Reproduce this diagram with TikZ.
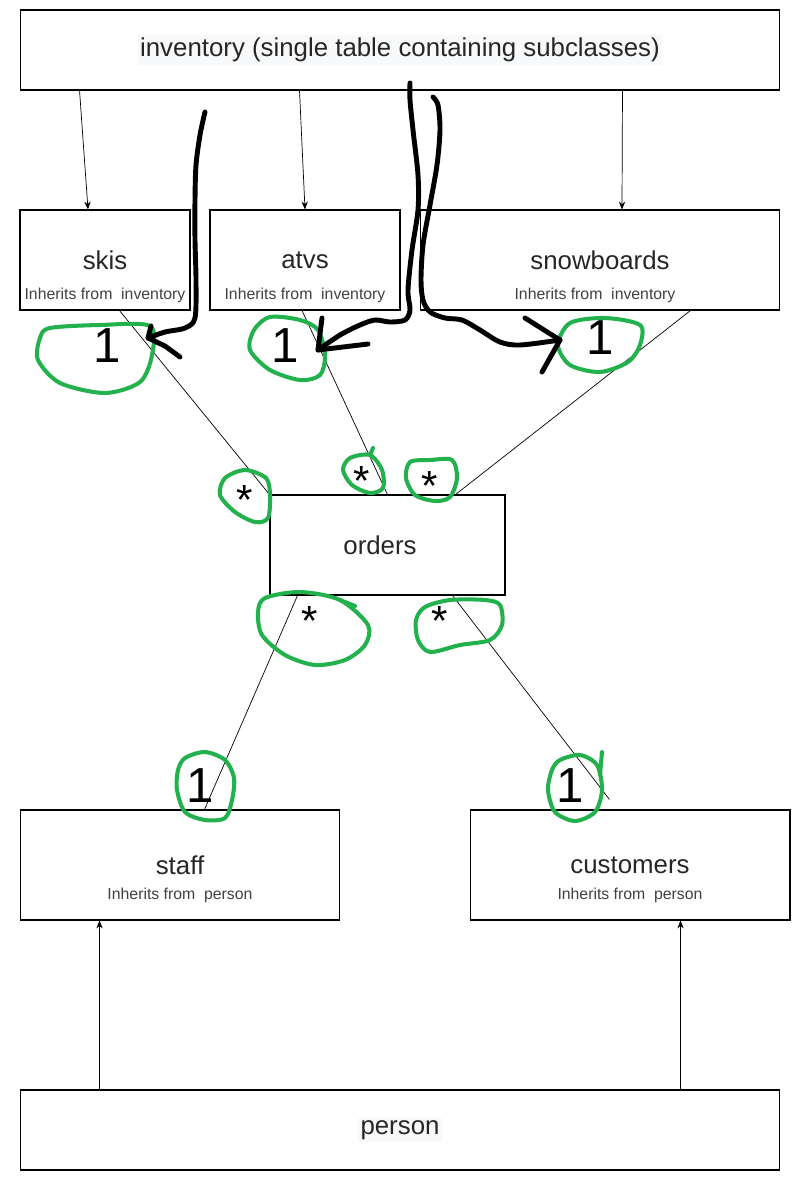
\documentclass[tikz,border=0pt]{standalone}
\usepackage{fontspec}
\setmainfont{Liberation Sans}
\usetikzlibrary{positioning,arrows.meta}
\definecolor{penGreen}{HTML}{22B14C}
\definecolor{hiliteGray}{HTML}{F8F9FA}
\newcommand{\hilite}[1]{{\fboxsep=1.5pt\colorbox{hiliteGray}{#1}}}
\tikzset{
  box/.style={draw, line width=0.6pt, rectangle, inner sep=0pt, text=black!85, font=\fontsize{14.7}{17}\selectfont},
  subtxt/.style={inner sep=0pt, text=black!75, font=\fontsize{9}{11}\selectfont},
  link/.style={line width=0.4pt},
  mult/.style={inner sep=0pt, font=\fontsize{24}{26}\selectfont},
  one/.style={inner sep=0pt, font=\fontsize{28}{30}\selectfont},
  greenloop/.style={penGreen, line width=2.3pt, line cap=round, line join=round},
  penline/.style={black, line width=2.8pt, line cap=round, line join=round}
}
\begin{document}
\begin{tikzpicture}[x=0.02cm, y=-0.02cm, >={Stealth[length=4.5pt,width=3.6pt]}]
  \useasboundingbox (0,0) rectangle (801,1181);
  \node[box, minimum width=15.2cm, minimum height=1.6cm] (inv) at (400,50) {\hilite{inventory (single table containing subclasses)}};
  \node[box, minimum width=3.4cm, minimum height=2cm] (skis) at (105,260) {skis};
  \node[box, minimum width=3.8cm, minimum height=2cm] (atvs) at (305,260) {atvs};
  \node[box, minimum width=7.2cm, minimum height=2cm] (snow) at (600,260) {snowboards};
  \node[box, minimum width=4.7cm, minimum height=2cm] (orders) at (387.5,545) {orders\hspace*{0.3cm}};
  \node[box, minimum width=6.4cm, minimum height=2.2cm] (staff) at (180,865) {staff};
  \node[box, minimum width=6.4cm, minimum height=2.2cm] (cust) at (630,865) {customers};
  \node[box, minimum width=15.2cm, minimum height=1.6cm] (person) at (400,1130) {\hilite{person}};

  \node[subtxt] (skisSub) at (105,295) {Inherits from\ \ inventory};
  \node[subtxt] (atvsSub) at (305,295) {Inherits from\ \ inventory};
  \node[subtxt] (snowSub) at (595,295) {Inherits from\ \ inventory};
  \node[subtxt] (staffSub) at (180,895) {Inherits from\ \ person};
  \node[subtxt] (custSub) at (630,895) {Inherits from\ \ person};

  \draw[link, ->] ([xshift=1.2cm]inv.south west) -- ([xshift=-0.34cm]skis.north);
  \draw[link, ->] ([xshift=5.6cm]inv.south west) -- (atvs.north);
  \draw[link, ->] ([xshift=-3.16cm]inv.south east) -- ([xshift=0.44cm]snow.north);
  \draw[link, ->] ([xshift=1.6cm]person.north west) -- ([xshift=1.6cm]staff.south west);
  \draw[link, ->] ([xshift=-2cm]person.north east) -- ([xshift=-2.2cm]cust.south east);

  \draw[link] ([xshift=2cm]skis.south west) -- (orders.north west);
  \draw[link] ([xshift=-0.06cm]atvs.south) -- (orders.north);
  \draw[link] ([xshift=-1.8cm]snow.south east) -- ([xshift=-1cm]orders.north east);
  \draw[link] ([xshift=0.56cm]orders.south west) -- ([xshift=3.7cm]staff.north west);
  \coordinate (custEnd) at ([shift={(2.8cm,0.2cm)}]cust.north west);
  \draw[link] ([xshift=-1.06cm]orders.south east) -- (custEnd);

  \node[one] (m1) at (107,346) {1};
  \node[one] (m2) at (285,346) {1};
  \node[one] (m3) at (600,338) {1};
  \node[one] (m4) at (200,786) {1};
  \node[one] (m5) at (570,786) {1};
  \node[mult] (s1) at (245,500) {*};
  \node[mult] (s2) at (362,481) {*};
  \node[mult] (s3) at (430,486) {*};
  \node[mult] (s4) at (310,621) {*};
  \node[mult] (s5) at (440,621) {*};

  \draw[greenloop] plot[smooth cycle] coordinates {(50,328) (100,325) (150,326) (152,355) (140,382) (105,393) (60,383) (38,360) (40,338)};
  \draw[greenloop] plot[smooth cycle] coordinates {(270,317) (300,320) (318,330) (325,355) (320,375) (300,380) (270,370) (250,350) (254,330)};
  \draw[greenloop] plot[smooth cycle] coordinates {(570,323) (605,318) (640,325) (640,345) (628,362) (600,372) (570,365) (558,345)};
  \draw[greenloop] plot[smooth cycle] coordinates {(225,478) (245,470) (266,478) (270,495) (268,518) (255,522) (235,512) (220,495)};
  \draw[greenloop] plot[smooth cycle] coordinates {(350,458) (370,455) (382,470) (383,488) (370,493) (352,485) (343,470)};
  \draw[greenloop] (370,455) -- (373,448);
  \draw[greenloop] plot[smooth cycle] coordinates {(410,462) (430,460) (452,460) (457,478) (450,497) (435,501) (415,495) (406,478)};
  \draw[greenloop] plot[smooth cycle] coordinates {(265,598) (300,592) (340,600) (368,625) (365,645) (345,660) (315,665) (285,655) (262,635) (258,612)};
  \draw[greenloop] (340,600) -- (355,606);
  \draw[greenloop] plot[smooth cycle] coordinates {(425,607) (450,600) (485,600) (500,605) (502,625) (490,640) (460,645) (430,652) (418,640) (416,620)};
  \draw[greenloop] plot[smooth cycle] coordinates {(185,758) (205,752) (225,760) (234,778) (232,800) (225,818) (205,820) (185,812) (177,790) (178,770)};
  \draw[greenloop] plot[smooth cycle] coordinates {(560,760) (580,755) (597,765) (602,790) (595,812) (575,821) (555,812) (548,790) (552,770)};
  \draw[greenloop] (600,775) -- (602,752);

  \draw[penline] plot[smooth] coordinates {(205,112) (200,135) (196,165) (195,200) (195,240) (196,280) (195,318) (185,328) (165,332) (148,338)};
  \draw[penline] (151,326) -- (148,338) -- (165,346) -- (180,357);
  \draw[penline] plot[smooth] coordinates {(410,83) (410,100) (413,130) (418,175) (418,210) (412,250) (408,290) (410,310) (405,320) (390,322) (375,320) (360,325) (340,335) (318,350)};
  \draw[penline] (322,318) -- (318,350) -- (368,344);
  \draw[penline] plot[smooth] coordinates {(433,97) (438,105) (440,130) (437,165) (430,205) (423,245) (421,280) (423,300) (430,312) (445,318) (462,320) (480,330) (500,342) (520,345) (560,340)};
  \draw[penline] (525,318) -- (560,340) -- (542,372);
\end{tikzpicture}
\end{document}
